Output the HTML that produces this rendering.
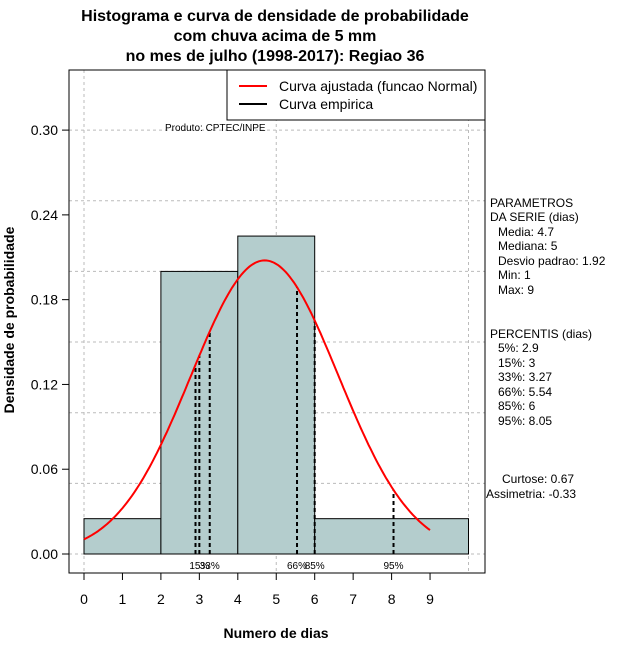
<!DOCTYPE html>
<html><head><meta charset="utf-8"><style>
body{margin:0;background:#fff;width:640px;height:660px;overflow:hidden}
svg{font-family:"Liberation Sans",sans-serif}
</style></head><body>
<svg id="chartsvg" width="640" height="660">
<g id="grid"></g>
<g id="bars"></g>
<g id="pct"></g>
<g id="curve"></g>
<g id="axes"></g>
<text x="275" y="21" text-anchor="middle" font-size="16" font-weight="bold">Histograma e curva de densidade de probabilidade</text>
<text x="275" y="41" text-anchor="middle" font-size="16" font-weight="bold">com chuva acima de 5 mm</text>
<text x="275" y="61" text-anchor="middle" font-size="16" font-weight="bold">no mes de julho (1998-2017): Regiao 36</text>
<text x="276" y="638" text-anchor="middle" font-size="14" font-weight="bold">Numero de dias</text>
<text transform="translate(14,320) rotate(-90)" text-anchor="middle" font-size="14" font-weight="bold">Densidade de probabilidade</text>
<text x="165" y="131" font-size="10">Produto: CPTEC/INPE</text>
<g>
<rect x="227" y="70" width="258" height="50" fill="#fff" stroke="#000"/>
<line x1="239" y1="86" x2="267" y2="86" stroke="red" stroke-width="2"/>
<text x="279" y="91" font-size="14">Curva ajustada (funcao Normal)</text>
<line x1="239" y1="104" x2="267" y2="104" stroke="#000" stroke-width="2"/>
<text x="279" y="109" font-size="14">Curva empirica</text>
</g>
<g font-size="12">
<text x="490" y="207">PARAMETROS</text>
<text x="490" y="221">DA SERIE (dias)</text>
<text x="498" y="236">Media: 4.7</text>
<text x="498" y="250">Mediana: 5</text>
<text x="498" y="265">Desvio padrao: 1.92</text>
<text x="498" y="279">Min: 1</text>
<text x="498" y="294">Max: 9</text>
<text x="490" y="338">PERCENTIS (dias)</text>
<text x="498" y="352">5%: 2.9</text>
<text x="498" y="367">15%: 3</text>
<text x="498" y="381">33%: 3.27</text>
<text x="498" y="396">66%: 5.54</text>
<text x="498" y="410">85%: 6</text>
<text x="498" y="425">95%: 8.05</text>
<text x="502" y="483">Curtose: 0.67</text>
<text x="486" y="498">Assimetria: -0.33</text>
</g>
</svg>
<script>
const binEdges=[0,2,4,6,10];
const binDensity=[0.025,0.2,0.225,0.025];
const pctValues=[2.9,3,3.27,5.54,6,8.05];
const pctLabels=["","15%","33%","66%","85%","95%"];
const meanVal=4.7, sdVal=1.92;
const xTicks=[0,1,2,3,4,5,6,7,8,9];
const yTicks=[0,0.06,0.12,0.18,0.24,0.30];
const yTickLabels=["0.00","0.06","0.12","0.18","0.24","0.30"];
const NS="http://www.w3.org/2000/svg";
const X=v=>84+v*38.45, Y=v=>554-v*1413;
function mk(p,t,a){const e=document.createElementNS(NS,t);for(const k in a)e.setAttribute(k,a[k]);p.appendChild(e);return e;}
function dens(x){const z=(x-meanVal)/sdVal;return Math.exp(-z*z/2)/(sdVal*Math.sqrt(2*Math.PI));}
const gG=document.getElementById('grid');
[0,5,10].forEach(v=>{const l=mk(gG,'line',{x1:X(v),x2:X(v),y1:70,y2:573,stroke:'#bbb','stroke-dasharray':'3,3'});

});
for(let i=0;i<=6;i++){const v=i*0.05;const l=mk(gG,'line',{x1:69,x2:485,y1:Y(v),y2:Y(v),stroke:'#bbb','stroke-dasharray':'3,3'});

}
const gB=document.getElementById('bars');
binDensity.forEach((d,i)=>{const r=mk(gB,'rect',{x:X(binEdges[i]),y:Y(d),width:X(binEdges[i+1])-X(binEdges[i]),height:Y(0)-Y(d),fill:'#b4cdcd',stroke:'#000'});

});
mk(gB,'line',{x1:X(0),x2:X(10),y1:Y(0),y2:Y(0),stroke:'#000','stroke-dasharray':'1,2'});
const gP=document.getElementById('pct');
pctValues.forEach((v,i)=>{const l=mk(gP,'line',{x1:X(v),x2:X(v),y1:Y(0),y2:Y(dens(v)),stroke:'#000','stroke-width':2,'stroke-dasharray':'4,3'});


if(pctLabels[i]){const t=mk(gP,'text',{x:X(v),y:569,'font-size':10,'text-anchor':'middle'});t.textContent=pctLabels[i];

}});
const pts=[];for(let x=0;x<=9.0001;x+=0.05)pts.push(X(x).toFixed(1)+','+Y(dens(x)).toFixed(1));
const curveLine=mk(document.getElementById('curve'),'polyline',{points:pts.join(' '),fill:'none',stroke:'red','stroke-width':2});


const gA=document.getElementById('axes');
mk(gA,'rect',{x:69,y:70,width:416,height:503,fill:'none',stroke:'#000'});
mk(gA,'line',{x1:X(0),x2:X(9),y1:573,y2:573,stroke:'#000'});
xTicks.forEach(v=>{mk(gA,'line',{x1:X(v),x2:X(v),y1:573,y2:580,stroke:'#000'});
const t=mk(gA,'text',{x:X(v),y:604,'font-size':14,'text-anchor':'middle'});t.textContent=v;

});
yTicks.forEach((v,i)=>{mk(gA,'line',{x1:62,x2:69,y1:Y(v),y2:Y(v),stroke:'#000'});
const t=mk(gA,'text',{x:58,y:Y(v)+5,'font-size':14,'text-anchor':'end'});t.textContent=yTickLabels[i];

});
</script>
</body></html>
